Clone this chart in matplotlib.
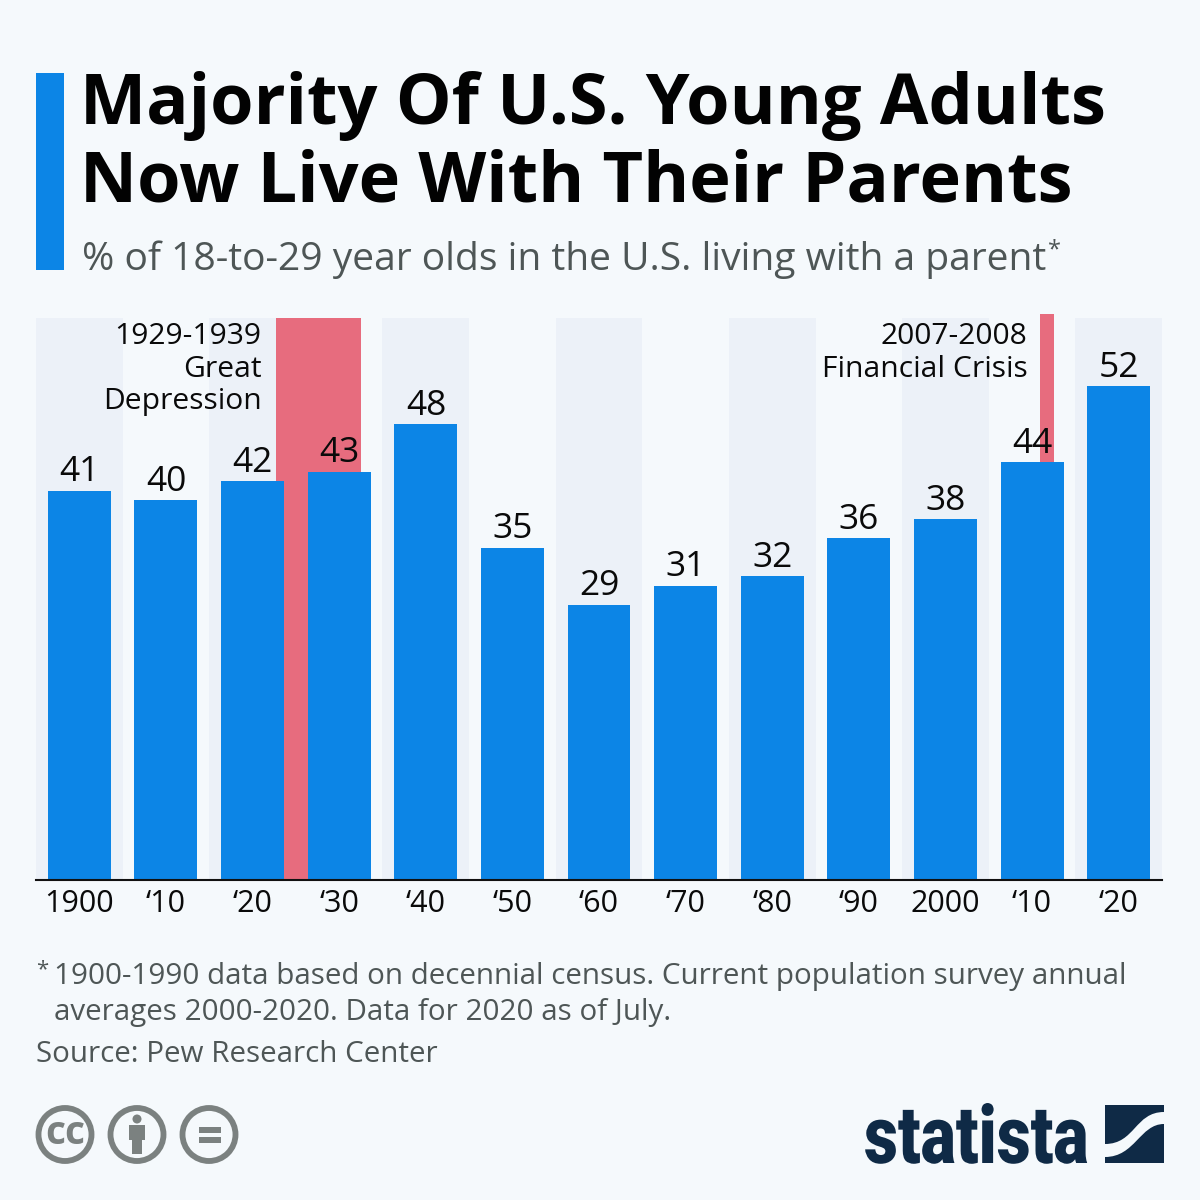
import matplotlib
matplotlib.use("Agg")
import matplotlib.pyplot as plt
from matplotlib.patches import Rectangle, Circle, PathPatch
from matplotlib.path import Path
from matplotlib.patheffects import AbstractPathEffect
from matplotlib.transforms import Affine2D

plt.rcParams['font.family'] = ['Open Sans', 'DejaVu Sans']

decades = ['1900', '‘10', '‘20', '‘30', '‘40', '‘50', '‘60', '‘70', '‘80', '‘90', '2000', '‘10', '‘20']
values = [41, 40, 42, 43, 48, 35, 29, 31, 32, 36, 38, 44, 52]
title_lines = ['Majority Of U.S. Young Adults', 'Now Live With Their Parents']
subtitle = '% of 18-to-29 year olds in the U.S. living with a parent'
foot_lines = ['1900-1990 data based on decennial census. Current population survey annual',
              'averages 2000-2020. Data for 2020 as of July.']
source = 'Source: Pew Research Center'

BG = '#F5F9FC'; BAND = '#ECF1F8'; BLUE = '#0C85E6'; RED = '#E76C7E'; GREY = '#4E5656'; NAVY = '#0F2A46'; ICON = '#7B8180'


class SqueezeX(AbstractPathEffect):
    """Narrow a text horizontally about a fixed display x, as no condensed face is installed."""
    def __init__(self, x0, sx):
        super().__init__()
        self.x0, self.sx = x0, sx

    def draw_path(self, renderer, gc, tpath, affine, rgbFace=None):
        squeeze = Affine2D().translate(-self.x0, 0).scale(self.sx, 1).translate(self.x0, 0)
        renderer.draw_path(gc, tpath, affine + squeeze, rgbFace)


fig = plt.figure(figsize=(12, 12), dpi=100, facecolor=BG)
W = H = 1200
ax = fig.add_axes([36/W, 1-880/H, (1162-36)/W, (880-318)/H], facecolor='none')
ax.set_xlim(-0.5, 12.5)
ax.set_ylim(0, 562/9.5)

for i in range(0, len(values), 2):
    ax.axvspan(i-0.5, i+0.5, color=BAND, lw=0, zorder=0)
ax.axvspan(2.27, 3.25, color=RED, lw=0, zorder=1)
ax.add_patch(Rectangle((11.09, 0), 0.16, 59.6, color=RED, lw=0, zorder=1, clip_on=False))

ax.bar(range(len(values)), values, width=0.727, color=BLUE, zorder=2)
for i, v in enumerate(values):
    ax.annotate(str(v), (i, v), xytext=(0.2, 1), textcoords='offset points', ha='center', va='bottom',
                fontsize=25.5, color='#0a0a0a', zorder=4)
ax.set_xticks(range(len(values)), decades)
ax.tick_params(axis='x', length=0, pad=6.5, labelsize=22, labelcolor='#0a0a0a')
ax.set_yticks([])
for s in ['top', 'left', 'right']:
    ax.spines[s].set_visible(False)
ax.spines['bottom'].set_linewidth(1.5)
ax.spines['bottom'].set_color('#111111')

# overlay in pixel coordinates
ov = fig.add_axes([0, 0, 1, 1], facecolor='none')
ov.set_xlim(0, W); ov.set_ylim(H, 0); ov.axis('off')

ov.add_patch(Rectangle((36, 73), 28, 197, color=BLUE, lw=0))
for y, t in zip([124, 202], title_lines):
    ov.text(80, y, t, fontsize=50.6, fontweight='bold', color='#020202', va='baseline', ha='left')
ov.text(81.5, 270, subtitle, fontsize=28.1, color=GREY, va='baseline')
ov.text(1048, 256, '*', fontsize=17, color=GREY, va='baseline')

for y, t in zip([344, 377, 409], ['1929-1939', 'Great', 'Depression']):
    ov.text(261.5, y, t, fontsize=21.6, color='#0a0a0a', ha='right', va='baseline')
for y, t in zip([344, 377], ['2007-2008', 'Financial Crisis']):
    ov.text(1027.5, y, t, fontsize=21.6, color='#0a0a0a', ha='right', va='baseline')

ov.text(36, 975, '*', fontsize=16, color=GREY, va='baseline')
for y, t in zip([984, 1020], foot_lines):
    ov.text(54, y, t, fontsize=21.35, color=GREY, va='baseline')
ov.text(36, 1062, source, fontsize=21.35, color=GREY, va='baseline')

# licence icons
for cx in [65, 137, 209]:
    ov.add_patch(Circle((cx, 1134.5), 26.5, fc='none', ec=ICON, lw=4.2))
ov.text(65, 1134, 'cc', fontsize=28, fontweight='bold', color=ICON, ha='center', va='center')
ov.add_patch(Circle((137, 1119), 4.5, color=ICON, lw=0))
ov.add_patch(Rectangle((129, 1125), 16, 15, color=ICON, lw=0))
ov.add_patch(Rectangle((132, 1138), 10, 16, color=ICON, lw=0))
ov.add_patch(Rectangle((199, 1127), 22, 5.5, color=ICON, lw=0))
ov.add_patch(Rectangle((199, 1137), 22, 5.5, color=ICON, lw=0))

# statista wordmark and symbol
logo = ov.text(864, 1163, 'statista', fontsize=58, fontweight='black', family='Roboto',
               color=NAVY, va='baseline', ha='left')
fig.canvas.draw()
ext = logo.get_window_extent()
logo.set_path_effects([SqueezeX(ext.x0, 224 / ext.width)])

M, L, C4, Z = Path.MOVETO, Path.LINETO, Path.CURVE4, Path.CLOSEPOLY
upper = Path([(1105, 1105), (1164, 1105), (1164, 1112), (1135, 1112), (1135, 1144), (1105, 1144), (1105, 1105)],
             [M, L, L, C4, C4, C4, Z])
lower = Path([(1164, 1124), (1164, 1163), (1105, 1163), (1105, 1157), (1135, 1157), (1140, 1124), (1164, 1124)],
             [M, L, L, L, C4, C4, C4])
ov.add_patch(PathPatch(upper, fc=NAVY, ec='none'))
ov.add_patch(PathPatch(lower, fc=NAVY, ec='none'))

fig.savefig('out.png', dpi=100, facecolor=BG)
